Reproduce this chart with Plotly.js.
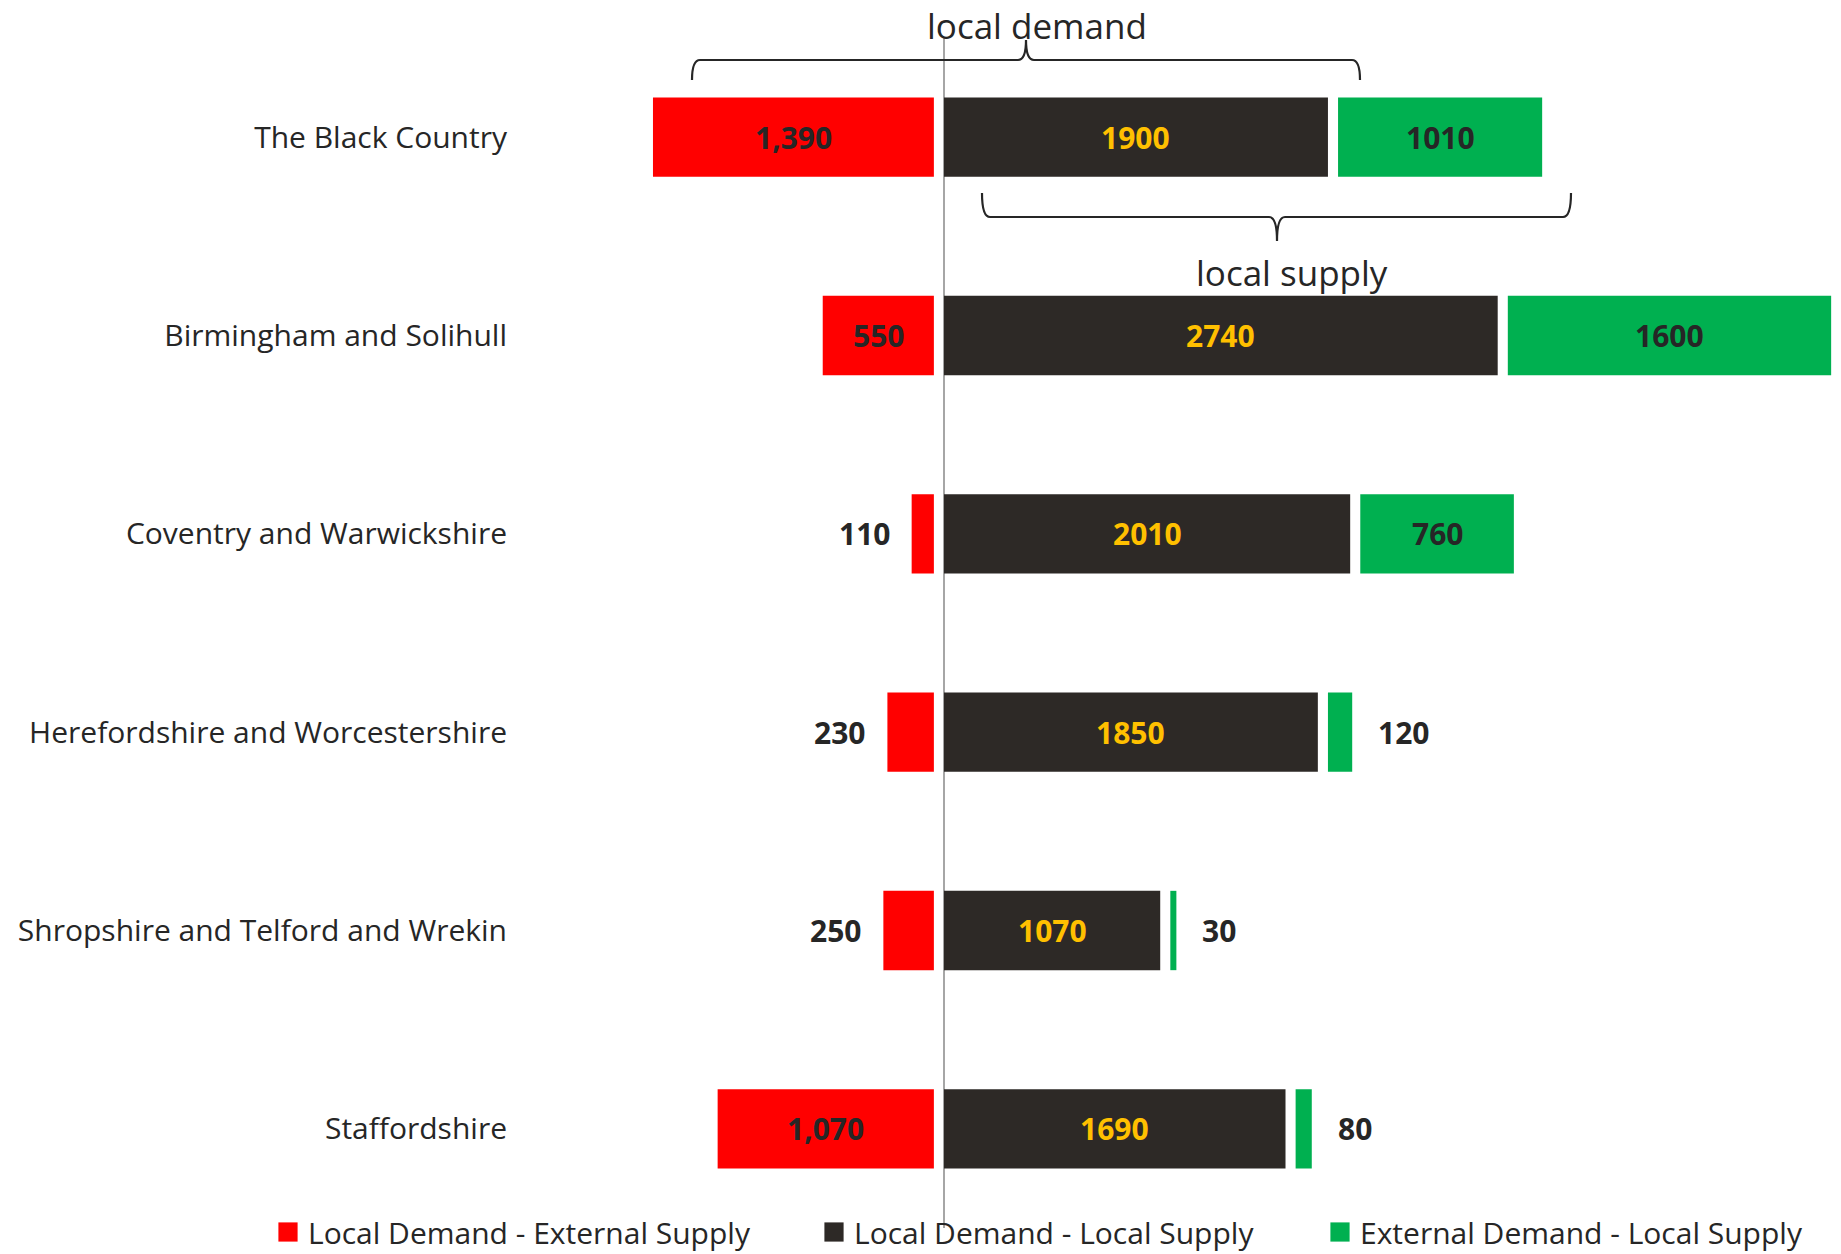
<!DOCTYPE html>
<html>
<head>
<meta charset="utf-8">
<script src="https://cdn.plot.ly/plotly-3.0.1.min.js"></script>
<style>
  html, body { margin: 0; padding: 0; background: #ffffff; }
  #chart { width: 1841px; height: 1254px; }
</style>
</head>
<body>
<div id="chart"></div>
<script>
// Regions (top to bottom) and the three flow series
const regions = [
  'The Black Country',
  'Birmingham and Solihull',
  'Coventry and Warwickshire',
  'Herefordshire and Worcestershire',
  'Shropshire and Telford and Wrekin',
  'Staffordshire'
];
const localDemandExternalSupply = [1390, 550, 110, 230, 250, 1070];
const localDemandLocalSupply    = [1900, 2740, 2010, 1850, 1070, 1690];
const externalDemandLocalSupply = [1010, 1600, 760, 120, 30, 80];
const seriesNames = [
  'Local Demand - External Supply',
  'Local Demand - Local Supply',
  'External Demand - Local Supply'
];

// ---- styling / geometry ----
const COLORS = { red: '#ff0000', dark: '#2d2926', green: '#00b050', label: '#ffc000', text: '#262626' };
const FONT = 'Open Sans, Noto Sans, DejaVu Sans, sans-serif';
const GAP = 50;            // white spacing between adjoining segments (data units)
const INSIDE_MIN = 400;    // segments shorter than this get their label outside
const W = 1841, H = 1254;
const M = { l: 520, r: 5, t: 38, b: 26 };
const X_RANGE = [-2098, 4414];
const plotW = W - M.l - M.r, plotH = H - M.t - M.b;
const px = v => (v - M.l) / plotW;          // page x -> paper x
const py = v => (H - M.b - v) / plotH;      // page y -> paper y

// Bars: red grows left from -GAP, dark grows right from 0, green follows dark after GAP
const redBase = localDemandExternalSupply.map(() => -GAP);
const greenBase = localDemandLocalSupply.map(v => v + GAP);

const common = { type: 'bar', orientation: 'h', y: regions, width: 0.4, hoverinfo: 'skip' };
const traces = [
  Object.assign({}, common, { name: seriesNames[0], legend: 'legend',  x: localDemandExternalSupply.map(v => -v), base: redBase, marker: { color: COLORS.red, line: { width: 0 } } }),
  Object.assign({}, common, { name: seriesNames[1], legend: 'legend2', x: localDemandLocalSupply, base: 0, marker: { color: COLORS.dark, line: { width: 0 } } }),
  Object.assign({}, common, { name: seriesNames[2], legend: 'legend3', x: externalDemandLocalSupply, base: greenBase, marker: { color: COLORS.green, line: { width: 0 } } })
];

// Value labels
const labelFont = (color) => ({ family: FONT, size: 30, weight: 700, color: color });
const annotations = [];
regions.forEach((r, i) => {
  const red = localDemandExternalSupply[i];
  const redStart = -GAP - red, redEnd = -GAP;
  const redText = red.toLocaleString('en-GB');
  if (red >= INSIDE_MIN) {
    annotations.push({ x: (redStart + redEnd) / 2, y: r, text: redText, showarrow: false, xanchor: 'center', font: labelFont(COLORS.text) });
  } else {
    annotations.push({ x: redStart, y: r, text: redText, showarrow: false, xanchor: 'right', xshift: -20, font: labelFont(COLORS.text) });
  }
  const dark = localDemandLocalSupply[i];
  annotations.push({ x: dark / 2, y: r, text: String(dark), showarrow: false, xanchor: 'center', font: labelFont(COLORS.label) });
  const green = externalDemandLocalSupply[i];
  const gStart = greenBase[i], gEnd = greenBase[i] + green;
  if (green >= INSIDE_MIN) {
    annotations.push({ x: (gStart + gEnd) / 2, y: r, text: String(green), showarrow: false, xanchor: 'center', font: labelFont(COLORS.text) });
  } else {
    annotations.push({ x: gEnd, y: r, text: String(green), showarrow: false, xanchor: 'left', xshift: 24, font: labelFont(COLORS.text) });
  }
});

// Brace captions
const braceFont = { family: FONT, size: 35, color: COLORS.text };
annotations.push({ xref: 'paper', yref: 'paper', x: px(1037), y: py(25), text: 'local demand', showarrow: false, xanchor: 'center', yanchor: 'middle', font: braceFont });
annotations.push({ xref: 'paper', yref: 'paper', x: px(1292), y: py(272), text: 'local supply', showarrow: false, xanchor: 'center', yanchor: 'middle', font: braceFont });

// Curly brace path in page pixels: ends at (x0, yEnd)/(x1, yEnd), bar at yBar, tip at (xm, yTip)
function brace(x0, x1, xm, yEnd, yBar, yTip) {
  const r = 8;
  const P = (x, y) => px(x).toFixed(5) + ',' + py(y).toFixed(5);
  return 'M' + P(x0, yEnd) +
    ' Q' + P(x0, yBar) + ' ' + P(x0 + r, yBar) +
    ' L' + P(xm - r, yBar) +
    ' Q' + P(xm, yBar) + ' ' + P(xm, yTip) +
    ' Q' + P(xm, yBar) + ' ' + P(xm + r, yBar) +
    ' L' + P(x1 - r, yBar) +
    ' Q' + P(x1, yBar) + ' ' + P(x1, yEnd);
}
const shapes = [
  { type: 'path', xref: 'paper', yref: 'paper', path: brace(692, 1360, 1026, 80, 60, 40), line: { color: COLORS.text, width: 2.2 } },
  { type: 'path', xref: 'paper', yref: 'paper', path: brace(982, 1571, 1277, 193, 217, 241), line: { color: COLORS.text, width: 2.2 } }
];

// One legend box per series so each entry sits at its own spot along the bottom
const legendBox = (left) => ({
  orientation: 'h', x: px(left), xanchor: 'left', y: py(1232), yanchor: 'middle',
  font: { family: FONT, size: 30, color: COLORS.text }, bgcolor: 'rgba(0,0,0,0)'
});

const layout = {
  width: W, height: H,
  margin: Object.assign({ autoexpand: false }, M),
  paper_bgcolor: '#ffffff', plot_bgcolor: '#ffffff',
  barmode: 'overlay',
  showlegend: true,
  legend: legendBox(268),
  legend2: legendBox(814),
  legend3: legendBox(1320),
  xaxis: {
    range: X_RANGE, showgrid: false, showticklabels: false, ticks: '',
    zeroline: true, zerolinecolor: '#a6a6a6', zerolinewidth: 1.5, showline: false, fixedrange: true
  },
  yaxis: {
    type: 'category', range: [5.5, -0.5], showgrid: false, zeroline: false, ticks: '', showline: false,
    tickfont: { family: FONT, size: 30, color: COLORS.text }, ticklabelstandoff: 12, fixedrange: true
  },
  annotations: annotations,
  shapes: shapes,
  font: { family: FONT, color: COLORS.text }
};

Plotly.newPlot('chart', traces, layout, { displayModeBar: false, staticPlot: true }).then(() => {
  // enlarge the legend swatches to match the label size
  document.querySelectorAll('#chart .legendpoints path').forEach(p => {
    const t = p.getAttribute('transform') || '';
    p.setAttribute('transform', t + ' scale(1.6)');
  });
});
</script>
</body>
</html>
